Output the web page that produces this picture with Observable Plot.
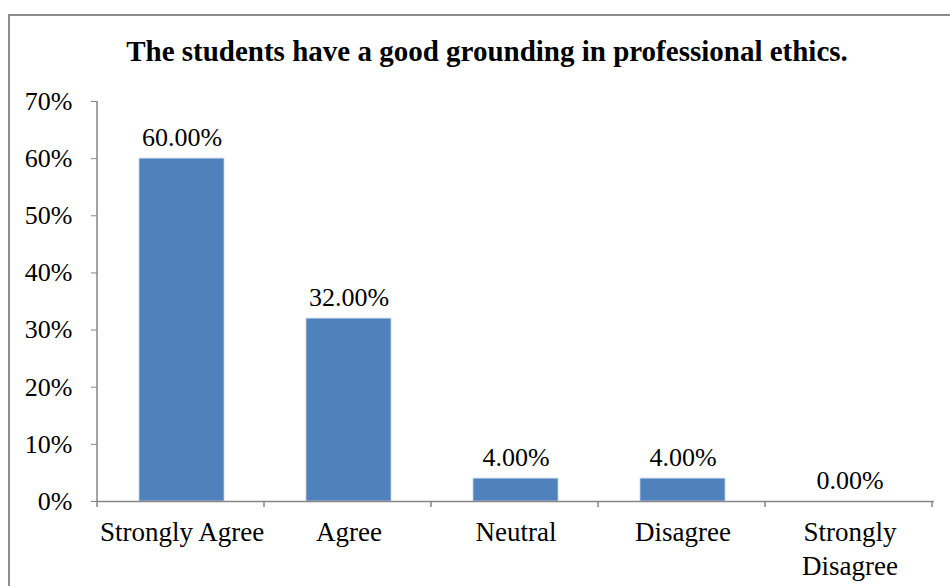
<!DOCTYPE html>
<html><head><meta charset="utf-8">
<script src="https://cdn.jsdelivr.net/npm/d3@7"></script>
<script src="https://cdn.jsdelivr.net/npm/@observablehq/plot@0.6"></script>
<style>
body{margin:0;background:#fff;}
#wrap{position:relative;width:950px;height:586px;overflow:hidden;background:#fff;}
#border{position:absolute;left:8px;top:14px;width:1000px;height:1000px;border:2px solid #8c8c8c;box-sizing:border-box;}
#chart{position:absolute;left:0;top:0;}
</style></head><body>
<div id="wrap"><div id="border"></div><div id="chart"></div></div>
<script>
const categories = ["Strongly Agree", "Agree", "Neutral", "Disagree", "Strongly Disagree"];
const tickLabels = ["Strongly Agree", "Agree", "Neutral", "Disagree", "Strongly\nDisagree"];
const values = [60, 32, 4, 4, 0];
const valueLabels = ["60.00%", "32.00%", "4.00%", "4.00%", "0.00%"];
const yTicks = [0, 10, 20, 30, 40, 50, 60, 70];
const title = "The students have a good grounding in professional ethics.";

const data = categories.map((c, i) => ({category: c, value: values[i], label: valueLabels[i]}));
const font = "'Liberation Serif', 'Times New Roman', serif";
const axisGray = "#868686";

const chart = Plot.plot({
  width: 950,
  height: 586,
  marginLeft: 97,
  marginRight: 16,
  marginTop: 101,
  marginBottom: 85,
  style: {fontFamily: font, fontSize: "26px", color: "black", background: "transparent", overflow: "visible"},
  x: {domain: categories, paddingInner: 0.49, paddingOuter: 0.245, label: null},
  y: {domain: [0, 70], label: null},
  marks: [
    Plot.barY(data, {x: "category", y: "value", fill: "#4F81BD", stroke: "#c5d5ea", strokeWidth: 0.8}),
    Plot.ruleY([0], {stroke: axisGray, strokeWidth: 1.5}),
    Plot.axisY({ticks: yTicks, tickFormat: d => d + "%", tickSize: 6, tickPadding: 19, stroke: axisGray, fill: "black", label: null}),
    Plot.axisX({tickSize: 0, tickPadding: 16, tickFormat: (d, i) => tickLabels[categories.indexOf(d)], fill: "black", fontSize: 27, lineHeight: 1.24, label: null}),
    Plot.text(data, {x: "category", y: "value", text: "label", lineAnchor: "bottom", dy: -13, fill: "black", fontSize: 26}),
    Plot.text([title], {frameAnchor: "top", dx: -29, dy: -61, fontWeight: "bold", fontSize: 29, fill: "black"})
  ]
});
document.getElementById("chart").appendChild(chart);

// axis lines and category boundary ticks from the plot's own scales
const xs = chart.scale("x");
const ys = chart.scale("y");
const svg = d3.select(chart);
const y0 = ys.apply(0), yTop = ys.apply(70);
const left = xs.range[0];
const g = svg.append("g").attr("stroke", axisGray).attr("stroke-width", 1.5);
g.append("line").attr("x1", left).attr("x2", left).attr("y1", yTop).attr("y2", y0);
for (let i = 0; i <= categories.length; i++) {
  const bx = left + i * xs.step;
  g.append("line").attr("x1", bx).attr("x2", bx).attr("y1", y0).attr("y2", y0 + 6);
}
</script>
</body></html>
